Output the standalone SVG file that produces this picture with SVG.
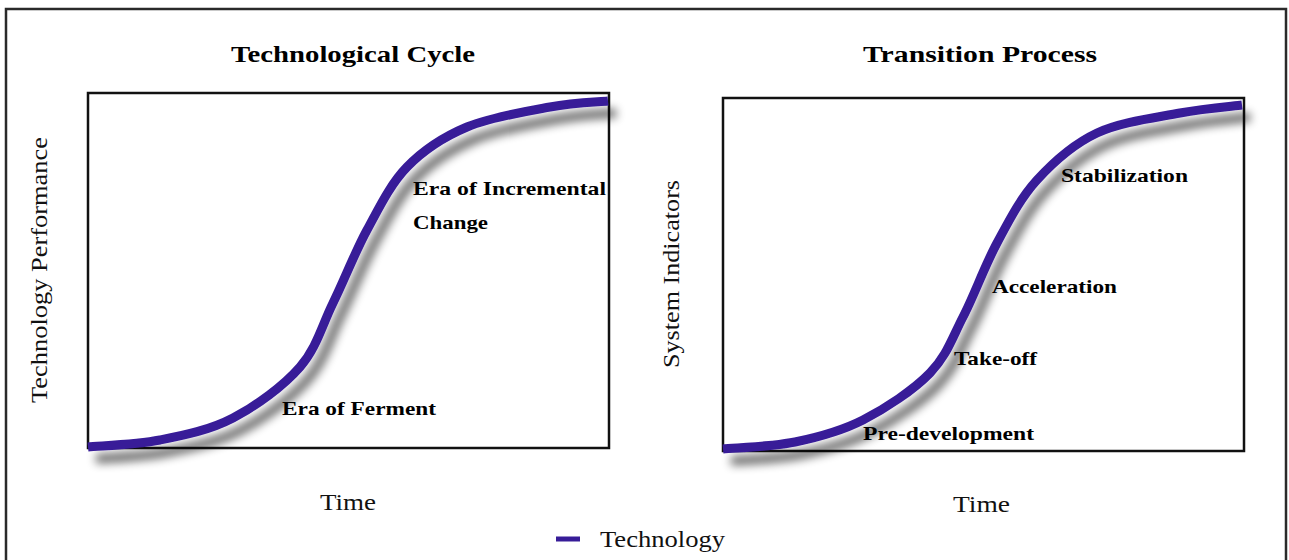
<svg xmlns="http://www.w3.org/2000/svg" width="1289" height="560" viewBox="0 0 1289 560">
<defs>
<filter id="sh" x="-10%" y="-10%" width="130%" height="130%">
<feGaussianBlur in="SourceAlpha" stdDeviation="5"/>
<feOffset dx="8" dy="12" result="b"/>
<feComponentTransfer><feFuncA type="linear" slope="0.6"/></feComponentTransfer>
<feMerge><feMergeNode/><feMergeNode in="SourceGraphic"/></feMerge>
</filter>
<style>
.frame{fill:#fff;stroke:#2a2a2a;stroke-width:2.5}
.box{fill:#fff;stroke:#111;stroke-width:2.5}
.curve{fill:none;stroke:#371c98;stroke-width:9;stroke-linecap:butt;stroke-linejoin:round}
.title{font-family:"Liberation Serif",serif;font-weight:bold;font-size:24px;fill:#000}
.lbl{font-family:"Liberation Serif",serif;font-weight:bold;font-size:19px;fill:#000}
.axis{font-family:"Liberation Serif",serif;font-size:24px;fill:#111}
</style>
</defs>
<rect class="frame" x="6" y="9" width="1280" height="600"/>

<g id="chart-left">
<text class="title" x="231" y="62" textLength="244" lengthAdjust="spacingAndGlyphs">Technological Cycle</text>
<rect class="box" x="88" y="93" width="521" height="355"/>
<path class="curve" filter="url(#sh)" d="M88,447 C100,445.8 135.8,444.8 160,440 C184.2,435.2 209.7,430.2 233,418 C256.3,405.8 283.3,386.2 300,367 C316.7,347.8 321.8,325.8 333,303 C344.2,280.2 354.7,252.7 367,230 C379.3,207.3 390.3,184.2 407,167 C423.7,149.8 443.2,137 467,127 C490.8,117 526.5,111.3 550,107 C573.5,102.7 598.3,102 608,101"/>
<text class="lbl" x="413" y="195" textLength="193" lengthAdjust="spacingAndGlyphs">Era of Incremental</text>
<text class="lbl" x="413" y="229" textLength="75" lengthAdjust="spacingAndGlyphs">Change</text>
<text class="lbl" x="282" y="415" textLength="154" lengthAdjust="spacingAndGlyphs">Era of Ferment</text>
<text class="axis" x="320" y="510" textLength="56" lengthAdjust="spacingAndGlyphs">Time</text>
<text class="axis" transform="translate(47,403) rotate(-90)" x="0" y="0" textLength="266" lengthAdjust="spacingAndGlyphs">Technology Performance</text>
</g>

<g id="chart-right">
<text class="title" x="863" y="62" textLength="234" lengthAdjust="spacingAndGlyphs">Transition Process</text>
<rect class="box" x="723" y="98" width="521" height="353"/>
<path class="curve" filter="url(#sh)" d="M723,449 C735,447.8 771.7,446.8 795,442 C818.3,437.2 840.5,431.5 863,420 C885.5,408.5 913.3,390.2 930,373 C946.7,355.8 951.8,338.7 963,317 C974.2,295.3 984.7,265.8 997,243 C1009.3,220.2 1020.3,198.3 1037,180 C1053.7,161.7 1073.2,144.2 1097,133 C1120.8,121.8 1155.8,117.7 1180,113 C1204.2,108.3 1231.7,106.3 1242,105"/>
<text class="lbl" x="1061" y="182" textLength="127" lengthAdjust="spacingAndGlyphs">Stabilization</text>
<text class="lbl" x="992" y="293" textLength="125" lengthAdjust="spacingAndGlyphs">Acceleration</text>
<text class="lbl" x="954" y="365" textLength="83" lengthAdjust="spacingAndGlyphs">Take-off</text>
<text class="lbl" x="863" y="440" textLength="171" lengthAdjust="spacingAndGlyphs">Pre-development</text>
<text class="axis" x="953" y="512" textLength="57" lengthAdjust="spacingAndGlyphs">Time</text>
<text class="axis" transform="translate(679,368) rotate(-90)" x="0" y="0" textLength="188" lengthAdjust="spacingAndGlyphs">System Indicators</text>
</g>

<g id="legend">
<line x1="556" y1="539" x2="580" y2="539" stroke="#371c98" stroke-width="5"/>
<text class="axis" x="600" y="547" textLength="125" lengthAdjust="spacingAndGlyphs">Technology</text>
</g>
</svg>
